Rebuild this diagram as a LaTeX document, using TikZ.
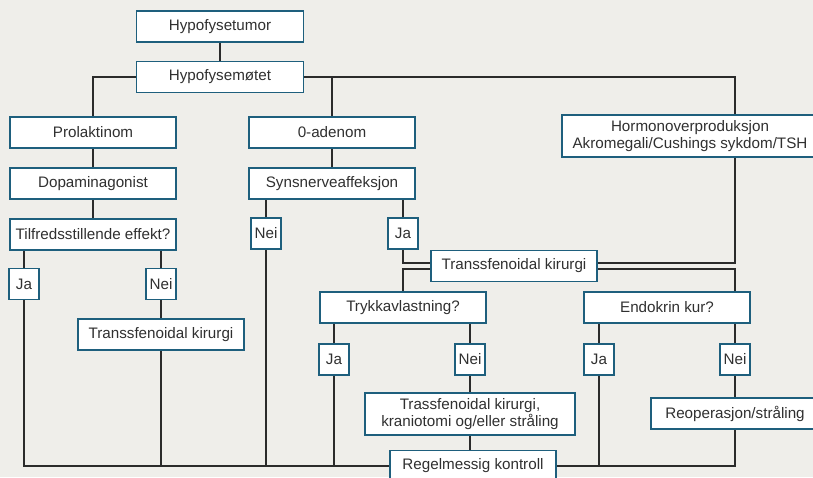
\documentclass[tikz,border=0pt]{standalone}
\usepackage{fontspec}
\setmainfont{Liberation Sans}
\usetikzlibrary{calc}
\definecolor{bgc}{HTML}{EFEEEA}
\definecolor{bcol}{HTML}{1E5F7D}
\definecolor{lcol}{HTML}{2B2B2B}
\definecolor{tcol}{HTML}{303030}
\pgfdeclarelayer{bg}
\pgfsetlayers{bg,main}
\begin{document}
\begin{tikzpicture}[x=1pt,y=-1pt,
  box/.style={draw=bcol, fill=white, line width=1.6pt, inner sep=0pt,
    minimum height=31pt, align=center, text=tcol,
    font=\fontsize{15.2}{17}\selectfont},
  yn/.style={box, minimum width=30pt},
  conn/.style={draw=lcol, line width=2pt}]
\begin{pgfonlayer}{bg}
\fill[bgc] (0,0) rectangle (813,477);
\end{pgfonlayer}
\useasboundingbox (0,0) rectangle (813,477);
\clip (0,0) rectangle (813,477);
\coordinate (rx) at (735,0);
% nodes
\node[box, minimum width=167pt] (tumor) at (220,26.5) {Hypofysetumor};
\node[box, minimum width=167pt] (moetet) at (220,77) {Hypofysemøtet};
\node[box, minimum width=166pt] (prol) at (93,132.5) {Prolaktinom};
\node[box, minimum width=166pt] (dopa) at (93,183.5) {Dopaminagonist};
\node[box, minimum width=166pt] (tilf) at (93,234.5) {Tilfredsstillende effekt?};
\node[box, minimum width=166pt] (adenom) at (332,132.5) {0-adenom};
\node[box, minimum width=166pt] (syns) at (332,183.5) {Synsnerveaffeksjon};
\node[box, minimum width=256pt, minimum height=42pt] (hormon) at (690,136) {Hormonoverproduksjon\\Akromegali/Cushings sykdom/TSH};
\node[yn] (nei1) at (266,233.5) {Nei};
\node[yn] (ja1) at (403,233.5) {Ja};
\node[box, minimum width=166pt] (tk) at (514,266) {Transsfenoidal kirurgi};
\node[yn] (ja2) at (24,284) {Ja};
\node[yn] (nei2) at (161,284) {Nei};
\node[box, minimum width=166pt] (tk2) at (161,334.5) {Transsfenoidal kirurgi};
\node[box, minimum width=166pt] (trykk) at (403,307.5) {Trykkavlastning?};
\node[yn] (ja3) at (334,359.5) {Ja};
\node[yn] (nei3) at (470,359.5) {Nei};
\node[box, minimum width=210pt, minimum height=42pt] (trass) at (470,414) {Trassfenoidal kirurgi,\\kraniotomi og/eller stråling};
\node[box, minimum width=166pt] (regel) at (473,466) {Regelmessig kontroll};
\node[box, minimum width=166pt] (endo) at (667,307.5) {Endokrin kur?};
\node[yn] (ja4) at (599,359.5) {Ja};
\node[yn] (nei4) at (735,359.5) {Nei};
\node[box, minimum width=168pt] (reop) at (735,413.5) {Reoperasjon/stråling};
% connectors behind the boxes
\begin{pgfonlayer}{bg}
\begin{scope}[conn]
\draw (tumor.south) -- (moetet.north);
\draw (moetet.west) -| (prol.north);
\draw (moetet.east) -| (hormon.north -| rx);
\draw (moetet.east -| adenom.north) -- (adenom.north);
\draw (prol.south) -- (dopa.north);
\draw (dopa.south) -- (tilf.north);
\draw (adenom.south) -- (syns.north);
\draw (nei1.north |- syns.south) -- (nei1.north);
\draw (ja1.north |- syns.south) -- (ja1.north);
\draw (ja2.north |- tilf.south) -- (ja2.north);
\draw (nei2.north |- tilf.south) -- (nei2.north);
\draw (nei2.south) -- (tk2.north);
\draw (ja2.south) |- (regel.west);
\draw (tk2.south) -- (tk2.south |- regel.west);
\draw (nei1.south) -- (nei1.south |- regel.west);
\draw (ja1.south) |- ($(tk.west)+(0,3pt)$);
\draw ($(tk.west)+(0,-3pt)$) -| (trykk.north);
\draw ($(tk.east)+(0,3pt)$) -| (hormon.south -| rx);
\draw ($(tk.east)+(0,-3pt)$) -| (endo.north -| rx);
\draw (ja3.north |- trykk.south) -- (ja3.north);
\draw (nei3.north |- trykk.south) -- (nei3.north);
\draw (ja3.south) -- (ja3.south |- regel.west);
\draw (nei3.south) -- (trass.north);
\draw (trass.south) -- (trass.south |- regel.north);
\draw (ja4.north |- endo.south) -- (ja4.north);
\draw (nei4.north |- endo.south) -- (nei4.north);
\draw (nei4.south) -- (reop.north);
\draw (ja4.south) -- (ja4.south |- regel.east);
\draw (regel.east) -| (reop.south);
\end{scope}
\end{pgfonlayer}
\end{tikzpicture}
\end{document}
